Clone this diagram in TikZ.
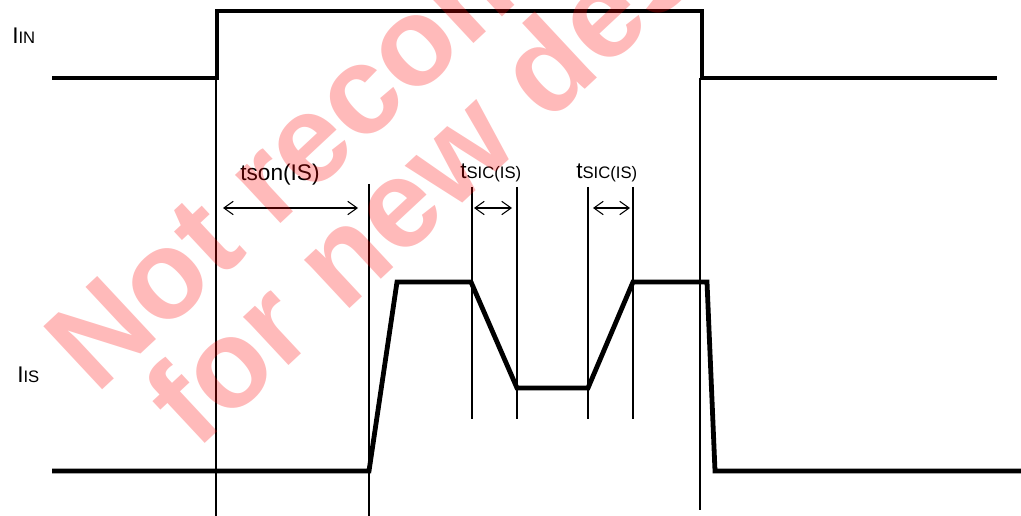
\documentclass[tikz,border=0pt]{standalone}
\usepackage{fontspec}
\setmainfont{Liberation Sans}
\usetikzlibrary{arrows.meta}

\newcommand{\subtxt}[1]{{\fontsize{12.5}{14}\selectfont #1}}

\tikzset{
  wave/.style={line width=3.6pt},
  marker/.style={line width=0.9pt},
  span/.style={line width=0.8pt, {Straight Barb[length=7pt,width=10pt]}-{Straight Barb[length=7pt,width=10pt]}},
  lbl/.style={inner sep=0pt, anchor=base west, font=\fontsize{17}{20}\selectfont},
  stamp/.style={inner sep=0pt, anchor=base west, rotate=43, text=red, text opacity=0.27,
    font=\fontsize{94}{100}\selectfont\bfseries}
}

\begin{document}
\begin{tikzpicture}[x=0.75pt, y=-0.75pt]
\useasboundingbox (0,0) rectangle (1021,516);

% labels
\node [lbl] (iin) at (12,44) {I\subtxt{IN}};
\node [lbl] (iis) at (17,383) {I\subtxt{IS}};
\node [lbl] (tson) at (240,181) {tson(IS)};
\node [lbl] (tsic1) at (460,179) {t\subtxt{SIC(IS)}};
\node [lbl] (tsic2) at (576,179) {t\subtxt{SIC(IS)}};

% timing marks
\draw[marker] (216,78) -- (216,516);
\draw[marker] (700,78) -- (700,510);
\draw[marker] (369,184) -- (369,516);
\draw[marker] (472,187) -- (472,419);
\draw[marker] (517,187) -- (517,419);
\draw[marker] (588,187) -- (588,419);
\draw[marker] (633,187) -- (633,419);

\coordinate (on1) at (223,208);
\coordinate (on2) at (358,208);
\coordinate (sa1) at (474,208);
\coordinate (sa2) at (512,208);
\coordinate (sb1) at (593,208);
\coordinate (sb2) at (630,208);

\draw[span] (on1) -- (on2);
\draw[span] (sa1) -- (sa2);
\draw[span] (sb1) -- (sb2);

% input
\draw[wave] (52,78) -- (217,78) -- (217,11) -- (702,11) -- (702,78) -- (997,78);

% sense current
\draw[wave] (52,471) -- (369,471) -- (397,282) -- (471,282) -- (517,388)
  -- (588,388) -- (633,282) -- (707,282) -- (715,471) -- (1021,471);

% watermark
\node [stamp] (wm1) at (96,396) {Not recommended};
\node [stamp] (wm2) at (196,452) {for new design};

\end{tikzpicture}
\end{document}
